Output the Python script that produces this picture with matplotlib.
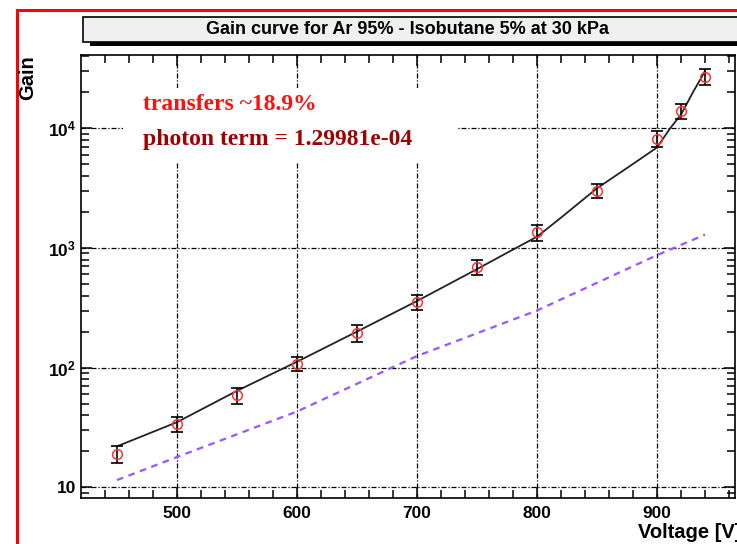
import numpy as np
import matplotlib.pyplot as plt
from matplotlib.patches import Rectangle
from matplotlib.ticker import FixedLocator, FixedFormatter, LogLocator, NullFormatter

# measured gain points
voltage = [450, 500, 550, 600, 650, 700, 750, 800, 850, 900, 920, 940]
gain = [19, 34, 59, 108, 195, 355, 690, 1350, 3000, 8200, 14000, 27000]
gain_err = [3, 5, 9, 15, 30, 50, 100, 200, 400, 1200, 2000, 4000]

# fit curve
fit_v = [450, 500, 550, 600, 650, 700, 750, 775, 800, 820, 850, 875, 900, 911, 920, 930, 940]
fit_g = [22, 35, 64, 112, 200, 360, 665, 910, 1240, 1790, 3150, 4650, 6900, 10000, 13000, 20000, 30000]

# photon term line
ph_v = [450, 500, 600, 700, 800, 900, 940]
ph_g = [11.5, 17.9, 43, 125, 300, 870, 1290]

xticks = [500, 600, 700, 800, 900]
yticks = [10, 100, 1000, 10000]
ytick_labels = ['10', '$\\mathregular{10^2}$', '$\\mathregular{10^3}$', '$\\mathregular{10^4}$']

plt.rcParams['font.family'] = ['Liberation Sans', 'DejaVu Sans']
plt.rcParams['font.weight'] = 'bold'
plt.rcParams['mathtext.default'] = 'bf'

W, H = 737, 544
fig = plt.figure(figsize=(W / 100, H / 100), dpi=100)
fig.patch.set_facecolor('white')

def fx(px):
    return px / W

def fy(py):
    return 1 - py / H

# red frame
fig.add_artist(plt.Line2D([fx(17), fx(17)], [fy(10), 0], color='red', lw=2.2))
fig.add_artist(plt.Line2D([fx(17), 1], [fy(10), fy(10)], color='red', lw=2.2))

ax = fig.add_axes([fx(81), fy(497.7), fx(735) - fx(81), fy(55) - fy(497.7)])
ax.set_yscale('log')
ax.set_xlim(420, 965)
ax.set_ylim(8.19, 40900)

ax.set_axisbelow(True)
ax.grid(True, which='major', color='black', lw=0.9, linestyle=(0, (4, 1.5, 1, 1.5)))

# white text pave hides the grid
ax.add_patch(Rectangle((0.064, 0.758), 0.511, 0.167, transform=ax.transAxes,
                       facecolor='white', edgecolor='none', zorder=1))

ax.plot(ph_v, ph_g, color='#9955ff', lw=1.6, linestyle=(0, (3, 2.5)), zorder=2)
ax.plot(fit_v, fit_g, color='#222222', lw=1.3, zorder=3)
ax.errorbar(voltage, gain, yerr=gain_err, fmt='none', ecolor='black', elinewidth=1.2,
            capsize=4, capthick=1.2, zorder=4)
ax.plot(voltage, gain, 'o', mfc='none', mec='#ff3030', ms=7, mew=1.1, zorder=5)

ax.xaxis.set_major_locator(FixedLocator(xticks))
ax.xaxis.set_minor_locator(FixedLocator(np.arange(440, 965, 20)))
ax.yaxis.set_major_locator(FixedLocator(yticks))
ax.yaxis.set_major_formatter(FixedFormatter(ytick_labels))
ax.yaxis.set_minor_locator(LogLocator(base=10, subs=np.arange(2, 10)))
ax.yaxis.set_minor_formatter(NullFormatter())
ax.tick_params(which='both', direction='in', top=True, right=True, labelsize=12.5, width=1.1)
ax.tick_params(which='major', length=8)
ax.tick_params(which='minor', length=6)
ax.tick_params(axis='x', pad=6)
for s in ax.spines.values():
    s.set_linewidth(1.2)

ax.text(fx(143), fy(104), 'transfers ~18.9%', transform=fig.transFigure, color='#ff1010',
        fontsize=17, fontweight='bold', family='Liberation Serif', va='center')
ax.text(fx(143), fy(140), 'photon term = 1.29981e-04', transform=fig.transFigure, color='#a00000',
        fontsize=17, fontweight='bold', family='Liberation Serif', va='center')

# title pave with shadow
fig.add_artist(Rectangle((fx(90), fy(46)), 1, fy(40) - fy(46), facecolor='black',
                         edgecolor='none', transform=fig.transFigure))
fig.add_artist(Rectangle((fx(83), fy(42)), 1, fy(17) - fy(42), facecolor='#f0f0f0',
                         edgecolor='black', lw=1.2, transform=fig.transFigure))
fig.text(fx(408), fy(30), 'Gain curve for Ar 95% - Isobutane 5% at 30 kPa', ha='center',
         va='center', fontsize=13)

fig.text(fx(28), fy(78), 'Gain', rotation=90, ha='center', va='center', fontsize=14.5)
fig.text(fx(638), fy(532), 'Voltage [V]', ha='left', va='center', fontsize=14.5)

fig.savefig('out.png', dpi=100)
